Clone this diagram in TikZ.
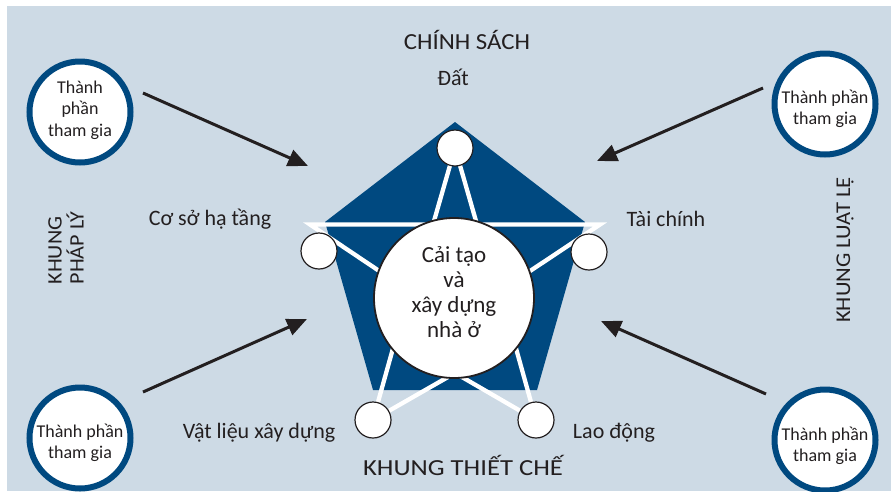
\documentclass[tikz,border=0pt]{standalone}
\usepackage{fontspec}
\setmainfont{Carlito}
\newfontfamily\capsA[FakeStretch=1.08]{Carlito}
\newfontfamily\capsB[FakeStretch=1.16]{Carlito}
\usetikzlibrary{arrows.meta}
\definecolor{bgc}{RGB}{205,218,229}
\definecolor{navy}{RGB}{0,73,128}
\definecolor{ink}{RGB}{35,31,32}
\begin{document}
\begin{tikzpicture}[x=1pt,y=-1pt,
  lbl/.style={text=ink,font=\fontsize{22}{26}\selectfont,inner sep=0pt},
  ttlA/.style={text=ink,font=\capsA\fontsize{23}{27}\selectfont,inner sep=0pt},
  ttlB/.style={text=ink,font=\capsB\fontsize{23}{22}\selectfont,inner sep=0pt},
  side/.style={text=ink,font=\capsA\fontsize{20.5}{22}\selectfont,inner sep=0pt,rotate=90},
  actor/.style={circle,draw=navy,line width=6pt,fill=white,minimum size=101pt,inner sep=0pt},
  actortxt/.style={text=ink,align=center,font=\fontsize{18}{21.5}\selectfont,inner sep=0pt},
  dot/.style={circle,draw=ink,line width=1.2pt,fill=white,minimum size=36pt,inner sep=0pt},
  arr/.style={draw=ink,line width=3pt,-{Triangle[length=20pt,width=17pt]}}]
\useasboundingbox (0,0) rectangle (891,491);
\fill[bgc] (7,6) rectangle (891,491);
% pentagon
\fill[navy] (455,122) -- (585,222) -- (537,390) -- (373,390) -- (325,222) -- cycle;
% star outline
\draw[white,line width=4.3pt,line join=miter,miter limit=20]
  (455,148) -- (433,224.5) -- (310,224.5) -- (409,291) -- (373,420) -- (455,373)
  -- (536,420) -- (500,291) -- (600,224.5) -- (477,224.5) -- cycle;
% centre
\node[circle,draw=ink,line width=1.8pt,fill=white,minimum size=160pt,inner sep=0pt] (core) at (454,298) {};
\node[text=ink,align=center,font=\fontsize{23}{25}\selectfont] (coretxt) at (454,292) {Cải tạo\\và\\xây dựng\\nhà ở};
% small circles
\node[dot] (d1) at (455,148) {};
\node[dot] (d2) at (319,251) {};
\node[dot] (d3) at (589,252) {};
\node[dot] (d4) at (373,420) {};
\node[dot] (d5) at (536,420) {};
% actors
\node[actor] (a1) at (80,112) {};
\node[actor] (a2) at (825,104) {};
\node[actor] (a3) at (80,438) {};
\node[actor] (a4) at (825,440) {};
\node[actortxt] (a1t) at (80,110) {Thành\\phần\\tham gia};
\node[actortxt] (a2t) at (825,109) {Thành phần\\tham gia};
\node[actortxt] (a3t) at (80,443) {Thành phần\\tham gia};
\node[actortxt] (a4t) at (825,446) {Thành phần\\tham gia};
% arrows
\coordinate (s1) at (143,93);  \coordinate (t1) at (308,166);
\coordinate (s2) at (763,88);  \coordinate (t2) at (597,161);
\coordinate (s3) at (143,392); \coordinate (t3) at (307,319);
\coordinate (s4) at (766,394); \coordinate (t4) at (601,321);
\draw[arr] (s1) -- (t1);
\draw[arr] (s2) -- (t2);
\draw[arr] (s3) -- (t3);
\draw[arr] (s4) -- (t4);
% labels
\node[ttlA] (cs) at (467,40) {CHÍNH SÁCH};
\node[lbl] (dat) at (453,77) {Đất};
\node[lbl] (cosoht) at (210,219) {Cơ sở hạ tầng};
\node[lbl] (tc) at (666,219) {Tài chính};
\node[lbl] (vl) at (259,433) {Vật liệu xây dựng};
\node[lbl] (ld) at (614,433) {Lao động};
\node[ttlB] (ktc) at (463,465) {KHUNG THIẾT CHẾ};
\node[side,align=left] (kpl) at (66,248) {KHUNG\\PHÁP LÝ};
\node[side,font=\capsA\fontsize{21}{22}\selectfont] (kll) at (845,250) {KHUNG LUẬT LỆ};
\end{tikzpicture}
\end{document}
